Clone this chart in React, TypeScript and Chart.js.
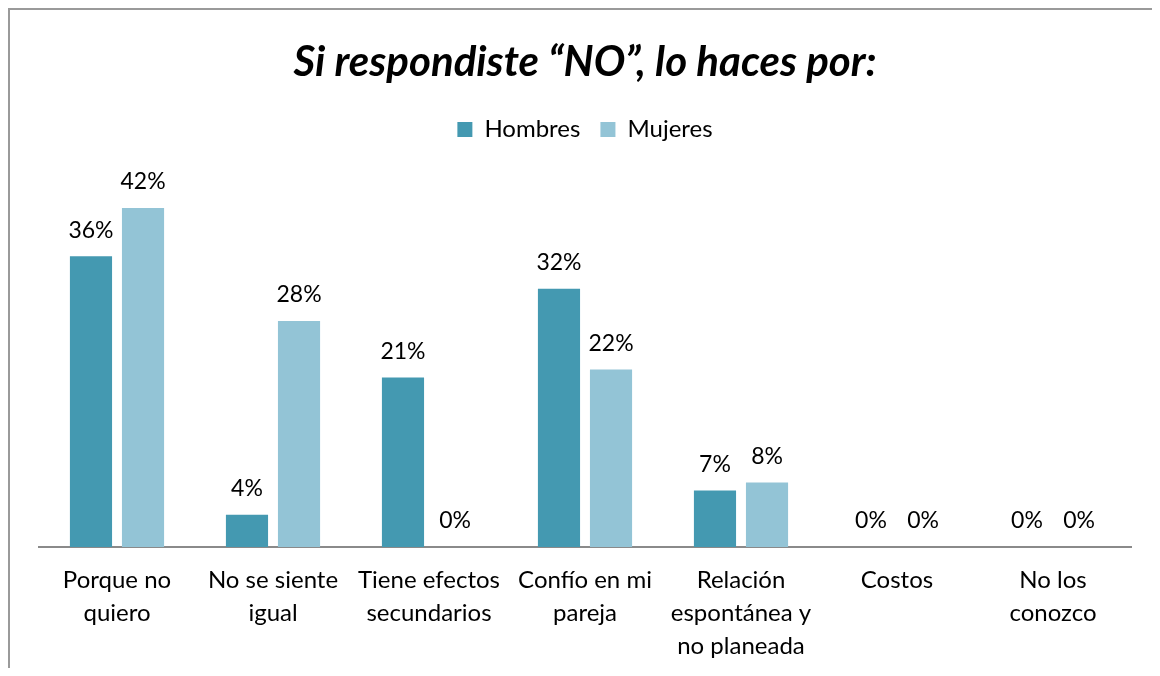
import React, { useEffect, useRef } from "react";
import { Chart, registerables } from "chart.js";

Chart.register(...registerables);

const categories: string[][] = [
  ["Porque no", "quiero"],
  ["No se siente", "igual"],
  ["Tiene efectos", "secundarios"],
  ["Confío en mi", "pareja"],
  ["Relación", "espontánea y", "no planeada"],
  ["Costos"],
  ["No los", "conozco"],
];
const hombres: number[] = [36, 4, 21, 32, 7, 0, 0];
const mujeres: number[] = [42, 28, 0, 22, 8, 0, 0];
const seriesNames: string[] = ["Hombres", "Mujeres"];
const titleText = "Si respondiste “NO”, lo haces por:";

const FONT = "Lato";

const dataLabels = {
  id: "dataLabels",
  afterDatasetsDraw(chart: any) {
    const ctx = chart.ctx;
    ctx.save();
    ctx.font = `23px ${FONT}`;
    ctx.fillStyle = "#000";
    ctx.textAlign = "center";
    ctx.textBaseline = "middle";
    chart.data.datasets.forEach((ds: any, i: number) => {
      const meta = chart.getDatasetMeta(i);
      meta.data.forEach((bar: any, j: number) => {
        ctx.fillText(`${ds.data[j]}%`, bar.x, bar.y - 26);
      });
    });
    ctx.restore();
  },
};

export default function App() {
  const ref = useRef<HTMLCanvasElement | null>(null);
  useEffect(() => {
    let chart: Chart | null = null;
    let cancelled = false;
    const make = () => {
      if (cancelled || !ref.current) return;
      chart = new Chart(ref.current, {
        type: "bar",
        data: {
          labels: categories,
          datasets: [
            { label: seriesNames[0], data: hombres, backgroundColor: "#4499B1" },
            { label: seriesNames[1], data: mujeres, backgroundColor: "#93C4D6" },
          ],
        },
        options: {
          responsive: false,
          animation: false,
          layout: { padding: { left: 29, right: 21, top: 0, bottom: 0 } },
          datasets: { bar: { categoryPercentage: 0.667, barPercentage: 0.81 } },
          plugins: {
            title: {
              display: true,
              text: titleText,
              color: "#000",
              font: { family: FONT, size: 42, weight: "bold", style: "italic" },
              padding: { top: 27, bottom: 10 },
            },
            legend: {
              display: true,
              labels: {
                color: "#000",
                font: { family: FONT, size: 24 },
                boxWidth: 15,
                boxHeight: 15,
                padding: 20,
              },
            },
            tooltip: { enabled: false },
          },
          scales: {
            x: {
              grid: { display: false, drawTicks: false },
              border: { display: true, color: "#8a8a8a", width: 2 },
              ticks: {
                color: "#000",
                font: { family: FONT, size: 24, lineHeight: 1.375 },
                padding: 17,
                maxRotation: 0,
                autoSkip: false,
              },
              afterFit: (scale: any) => {
                scale.height = 121;
              },
            },
            y: {
              display: false,
              min: 0,
              max: 49,
            },
          },
        },
        plugins: [dataLabels],
      });
    };
    const fontsApi: any = (document as any).fonts;
    if (fontsApi && fontsApi.load) {
      Promise.all([
        fontsApi.load(`24px ${FONT}`),
        fontsApi.load(`italic bold 42px ${FONT}`),
      ]).then(make, make);
    } else {
      make();
    }
    return () => {
      cancelled = true;
      if (chart) chart.destroy();
    };
  }, []);

  return (
    <div
      style={{
        borderTop: "2px solid #9a9a9a",
        borderLeft: "2px solid #9a9a9a",
        width: 1150,
        height: 658,
        background: "#fff",
      }}
    >
      <canvas ref={ref} width={1142} height={658} style={{ display: "block" }} />
    </div>
  );
}
